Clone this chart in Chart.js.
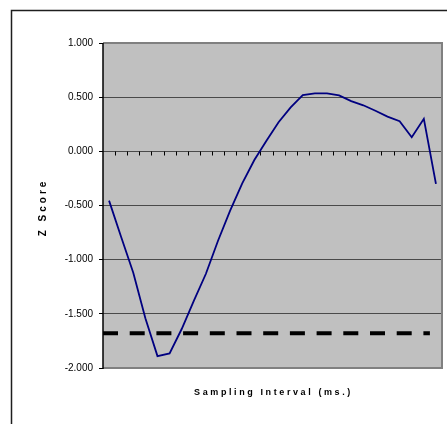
<!DOCTYPE html>
<html>
<head>
<meta charset="utf-8">
<script src="https://cdn.jsdelivr.net/npm/chart.js@4/dist/chart.umd.min.js"></script>
<style>
  html, body { margin: 0; padding: 0; background: #fff; }
  #wrap { width: 447px; height: 424px; }
</style>
</head>
<body>
<div id="wrap"><canvas id="c" width="447" height="424"></canvas></div>
<script>
// Sampling intervals (categories along the x axis)
const intervals = ['1','2','3','4','5','6','7','8','9','10','11','12','13','14',
                   '15','16','17','18','19','20','21','22','23','24','25','26','27','28'];
// Z score at each sampling interval
const zScores = [-0.455, -0.79, -1.12, -1.54, -1.89, -1.865, -1.64, -1.38, -1.13, -0.825,
                 -0.548, -0.295, -0.08, 0.098, 0.268, 0.406, 0.52, 0.535, 0.535, 0.517,
                 0.463, 0.425, 0.375, 0.32, 0.278, 0.13, 0.30, -0.30];
// Critical value reference line
const criticalZ = -1.68;
const criticalSpan = [0, 27];
// Y axis tick values
const yTicks = [1.0, 0.5, 0.0, -0.5, -1.0, -1.5, -2.0];
const xTitle = 'Sampling Interval (ms.)';
const yTitle = 'Z Score';

const FONT = '"Liberation Sans", Arial, sans-serif';

// Frame, plot background and plot border
const framePlugin = {
  id: 'frame',
  beforeDraw(chart) {
    const { ctx, chartArea: a } = chart;
    ctx.save();
    ctx.fillStyle = '#ffffff';
    ctx.fillRect(0, 0, chart.width, chart.height);
    ctx.strokeStyle = '#1e1e1e';
    ctx.lineWidth = 1.5;
    ctx.strokeRect(11.5, 10.5, 600, 600);
    ctx.fillStyle = '#c0c0c0';
    ctx.fillRect(a.left, a.top, a.right - a.left, a.bottom - a.top);
    ctx.restore();
  },
  beforeDatasetsDraw(chart) {
    const { ctx, chartArea: a, scales } = chart;
    ctx.save();
    // plot border
    ctx.strokeStyle = '#808080';
    ctx.lineWidth = 2;
    ctx.beginPath();
    ctx.moveTo(a.left, a.top);
    ctx.lineTo(a.right, a.top);
    ctx.lineTo(a.right, a.bottom);
    ctx.lineTo(a.left, a.bottom);
    ctx.stroke();
    // category tick marks hanging from the zero line
    const x = scales.x, y0 = Math.round(scales.y.getPixelForValue(0)) + 0.5;
    ctx.strokeStyle = '#000000';
    ctx.lineWidth = 1;
    ctx.beginPath();
    for (let i = 0; i < intervals.length - 1; i++) {
      const px = Math.round((x.getPixelForValue(i) + x.getPixelForValue(i + 1)) / 2) + 0.5;
      ctx.moveTo(px, y0);
      ctx.lineTo(px, y0 + 4);
    }
    ctx.stroke();
    // left axis line
    ctx.strokeStyle = '#000000';
    ctx.lineWidth = 1.5;
    ctx.beginPath();
    ctx.moveTo(a.left, a.top);
    ctx.lineTo(a.left, a.bottom + 1);
    ctx.stroke();
    ctx.restore();
  },
  afterDraw(chart) {
    const { ctx, chartArea: a } = chart;
    const o = chart.options.plugins.frame;
    ctx.save();
    ctx.fillStyle = '#000000';
    ctx.textAlign = 'center';
    ctx.textBaseline = 'middle';
    ctx.font = 'bold 9px ' + FONT;
    ctx.letterSpacing = o.xSpacing + 'px';
    ctx.fillText(o.xTitle, (a.left + a.right) / 2 + 1, a.bottom + 25);
    ctx.translate(43, (a.top + a.bottom) / 2 + 2);
    ctx.rotate(-Math.PI / 2);
    ctx.font = 'bold 10px ' + FONT;
    ctx.letterSpacing = o.ySpacing + 'px';
    ctx.fillText(o.yTitle, 0, 0);
    ctx.restore();
  }
};

new Chart(document.getElementById('c'), {
  type: 'line',
  data: {
    labels: intervals,
    datasets: [
      {
        label: yTitle,
        data: zScores,
        borderColor: '#000080',
        borderWidth: 1.8,
        pointRadius: 0,
        tension: 0,
        fill: false,
        xAxisID: 'x'
      },
      {
        label: 'Critical',
        data: criticalSpan.map(v => ({ x: v, y: criticalZ })),
        borderColor: '#000000',
        borderWidth: 4,
        borderDash: [15, 11.7],
        borderCapStyle: 'butt',
        pointRadius: 0,
        fill: false,
        xAxisID: 'x2'
      }
    ]
  },
  options: {
    responsive: false,
    animation: false,
    layout: { padding: { left: 0, top: 43, right: 5, bottom: 56 } },
    plugins: {
      legend: { display: false },
      tooltip: { enabled: false },
      frame: { xTitle: xTitle, yTitle: yTitle, xSpacing: 2.6, ySpacing: 3 }
    },
    scales: {
      x: {
        type: 'category',
        offset: true,
        display: false
      },
      x2: {
        type: 'linear',
        min: 0,
        max: 28,
        display: false
      },
      y: {
        min: -2,
        max: 1,
        afterBuildTicks(scale) { scale.ticks = yTicks.map(v => ({ value: v })); },
        afterFit(scale) { scale.width = 103; },
        ticks: {
          font: { family: FONT, size: 10 },
          color: '#000000',
          padding: 6,
          callback: v => Number(v).toFixed(3)
        },
        grid: {
          color: '#4a4a4a',
          lineWidth: 1,
          drawTicks: true,
          tickLength: 4,
          tickColor: '#000000'
        },
        border: { display: false }
      }
    }
  },
  plugins: [framePlugin]
});
</script>
</body>
</html>
